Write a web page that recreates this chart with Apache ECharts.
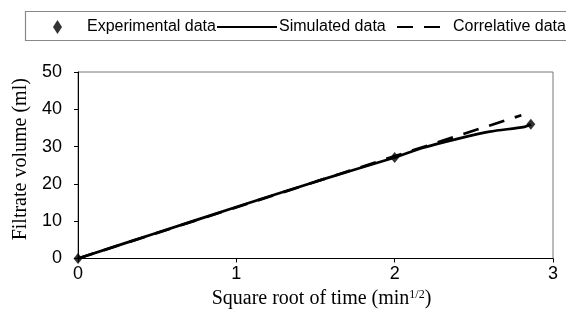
<!DOCTYPE html>
<html><head><meta charset="utf-8">
<script src="https://cdn.jsdelivr.net/npm/echarts@6/dist/echarts.min.js"></script>
<style>html,body{margin:0;padding:0;background:#fff}#c{width:566px;height:324px}</style>
</head><body><div id="c"></div>
<script>
const expX = [0, 2, 2.86];
const expY = [0, 27.1, 36.0];
const simX = [0, 0.5, 1, 1.5, 2, 2.18, 2.39, 2.6, 2.82, 2.86];
const simY = [0, 6.9, 13.8, 20.6, 27.1, 29.7, 32.0, 34.0, 35.3, 36.0];
const corX = [0, 2.8];
const corY = [0, 38.4];
const xTicks = [0, 1, 2, 3];
const yTicks = [0, 10, 20, 30, 40, 50];
const names = ['Experimental data', 'Simulated data', 'Correlative data'];

const zip = (a, b) => a.map((v, i) => [v, b[i]]);
const sans = 'Liberation Sans, Arial, sans-serif';
const serif = 'Liberation Serif, Times New Roman, serif';

const chart = echarts.init(document.getElementById('c'), null, {renderer: 'canvas'});
chart.setOption({
  backgroundColor: '#fff',
  animation: false,
  graphic: [{
    type: 'rect', silent: true,
    shape: {x: 25.5, y: 11.5, width: 560, height: 29},
    style: {fill: 'none', stroke: '#888', lineWidth: 1.2}
  }],
  legend: [
    {data: [{name: names[0], icon: 'diamond'}], left: 53, top: 19, padding: 0, itemWidth: 9, itemHeight: 14,
     selectedMode: false, textStyle: {fontFamily: sans, fontSize: 16, color: '#000', padding: [0, 0, 0, 20]}},
    {data: [{name: names[1], itemStyle: {opacity: 0}}], left: 216, top: 19, padding: 0, itemWidth: 60, itemHeight: 14,
     selectedMode: false, textStyle: {fontFamily: sans, fontSize: 16, color: '#000', padding: [0, 0, 0, -3]}},
    {data: [{name: names[2], itemStyle: {opacity: 0}}], left: 396, top: 19, padding: 0, itemWidth: 44, itemHeight: 14,
     selectedMode: false, textStyle: {fontFamily: sans, fontSize: 16, color: '#000', padding: [0, 0, 0, 7]}}
  ],
  grid: {left: 78, right: 13, top: 72, bottom: 65.5, show: true, borderColor: '#777', borderWidth: 1, containLabel: false},
  xAxis: {
    type: 'value', min: xTicks[0], max: xTicks[xTicks.length - 1], interval: 1,
    name: '{a|Square root of time (min}{s|1/2}{a|)}',
    nameLocation: 'middle', nameGap: 20,
    nameTextStyle: {padding: [0, 0, 0, 12], rich: {
      a: {fontFamily: serif, fontSize: 20, color: '#000'},
      s: {fontFamily: serif, fontSize: 12, color: '#000', verticalAlign: 'top'}
    }},
    axisLine: {show: true, lineStyle: {color: '#000', width: 1}},
    axisTick: {show: true, inside: false, length: 4, lineStyle: {color: '#000'}},
    axisLabel: {fontFamily: sans, fontSize: 18, color: '#000', margin: 7},
    splitLine: {show: false}
  },
  yAxis: {
    type: 'value', min: yTicks[0], max: yTicks[yTicks.length - 1], interval: 10,
    name: 'Filtrate volume (ml)', nameLocation: 'middle', nameGap: 42,
    nameTextStyle: {fontFamily: serif, fontSize: 20, color: '#000', padding: [0, 0, 0, 12]},
    axisLine: {show: true, lineStyle: {color: '#000', width: 1}},
    axisTick: {show: true, inside: false, length: 4, lineStyle: {color: '#000'}},
    axisLabel: {fontFamily: sans, fontSize: 18, color: '#000', margin: 16},
    splitLine: {show: false}
  },
  series: [
    {name: names[1], type: 'line', data: zip(simX, simY), symbol: 'none', smooth: 0.3,
     itemStyle: {color: '#000'}, lineStyle: {color: '#000', width: 2.7}, z: 3},
    {name: names[2], type: 'line', data: zip(corX, corY), symbol: 'none',
     itemStyle: {color: '#000'}, lineStyle: {color: '#000', width: 2.7, type: [16, 11]}, z: 2},
    {name: names[0], type: 'scatter', data: zip(expX, expY), symbol: 'diamond', symbolSize: [9, 11],
     itemStyle: {color: '#000'}, z: 4}
  ]
});
</script></body></html>
